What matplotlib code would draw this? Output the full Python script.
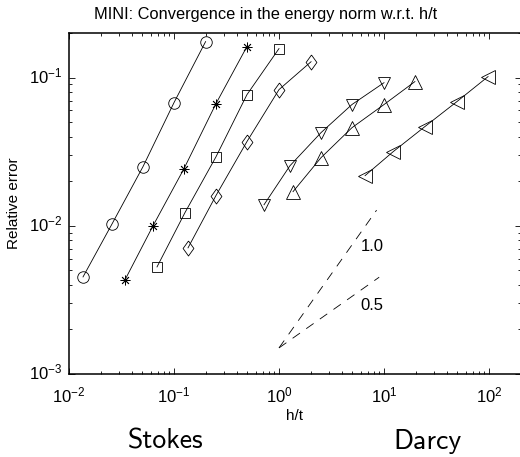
import os
import matplotlib
matplotlib.use("Agg")
import matplotlib.pyplot as plt
import matplotlib.transforms as mtransforms
from matplotlib.font_manager import FontProperties
import numpy as np

plt.rcParams['font.family'] = ['Liberation Sans', 'DejaVu Sans']
plt.rcParams['mathtext.fontset'] = 'custom'
plt.rcParams['mathtext.rm'] = 'Liberation Sans'
plt.rcParams['mathtext.it'] = 'Liberation Sans:italic'
plt.rcParams['mathtext.bf'] = 'Liberation Sans:bold'
plt.rcParams['lines.scale_dashes'] = False

# h/t values and relative errors
x_circ = [0.0136, 0.0257, 0.0507, 0.1, 0.2]
y_circ = [0.00452, 0.0103, 0.0251, 0.0678, 0.175]
x_star = [0.0341, 0.0631, 0.1245, 0.251, 0.495]
y_star = [0.00431, 0.0100, 0.0243, 0.0667, 0.162]
x_sq = [0.0689, 0.127, 0.251, 0.495, 1.0]
y_sq = [0.00528, 0.01225, 0.0292, 0.0767, 0.157]
x_dia = [0.136, 0.251, 0.495, 1.0, 2.02]
y_dia = [0.0071, 0.0160, 0.0370, 0.0830, 0.128]
x_tdown = [0.72, 1.27, 2.51, 4.95, 10.0]
y_tdown = [0.01387, 0.0254, 0.0425, 0.0658, 0.0924]
x_tup = [1.36, 2.51, 4.95, 10.0, 19.7]
y_tup = [0.0170, 0.0288, 0.0459, 0.0658, 0.094]
x_tleft = [6.6, 12.2, 24.5, 49.5, 98.0]
y_tleft = [0.0218, 0.0316, 0.0467, 0.0689, 0.1016]

# reference slopes
slope_x0 = 1.0
slope_y0 = 0.0015
slope1_x1 = 8.5
slope05_x1 = 9.0

W, H = 520, 457
fig = plt.figure(figsize=(W/100, H/100), dpi=100)
ax = fig.add_axes([69/W, 1-374/H, (520.6-69)/W, (374-33)/H])

diamond = [(0, 1), (0.72, 0), (0, -1), (-0.72, 0), (0, 1)]
kw = dict(color='k', lw=0.6, mfc='none', mec='k', mew=0.6)
ax.plot(x_circ, y_circ, marker='o', ms=8.3, **kw)
ax.plot(x_star, y_star, marker=(8, 2, 0), ms=7.0, **kw)
ax.plot(x_sq, y_sq, marker='s', ms=6.9, **kw)
ax.plot(x_dia, y_dia, marker=diamond, ms=10.8, **kw)
ax.plot(x_tdown, y_tdown, marker='v', ms=9.2, **kw)
ax.plot(x_tup, y_tup, marker='^', ms=9.4, **kw)
ax.plot(x_tleft, y_tleft, marker='<', ms=9.4, **kw)

xs1 = np.array([slope_x0, slope1_x1])
xs2 = np.array([slope_x0, slope05_x1])
ax.plot(xs1, slope_y0*(xs1/slope_x0)**1.0, color='k', lw=0.6, ls=(0, (6.5, 5.5)))
ax.plot(xs2, slope_y0*(xs2/slope_x0)**0.5, color='k', lw=0.6, ls=(0, (6.5, 5.5)))
ax.text(6.0, 0.0072, '1.0', fontsize=12, va='center', ha='left')
ax.text(6.0, 0.0029, '0.5', fontsize=12, va='center', ha='left')

ax.set_xscale('log')
ax.set_yscale('log')
ax.set_xlim(1e-2, 2e2)
ax.set_ylim(1e-3, 0.2)
ax.tick_params(which='both', direction='in', top=True, right=True, labelsize=12)
ax.tick_params(which='major', length=4.5, width=0.6)
ax.tick_params(axis='x', pad=8)
ax.tick_params(axis='y', pad=4.5)
ax.tick_params(which='minor', length=2.5, width=0.6)
for s in ax.spines.values():
    s.set_linewidth(1.1)
ax.set_xlabel('h/t', fontsize=11, labelpad=3)
ax.set_ylabel('Relative error', fontsize=11, labelpad=6)

# lift the y tick labels so the base "10" sits on the tick
up = mtransforms.ScaledTranslation(0, 3/100, fig.dpi_scale_trans)
for lab in ax.get_yticklabels():
    lab.set_transform(lab.get_transform() + up)

fig.text(266/W, 1-14/H, 'MINI: Convergence in the energy norm w.r.t. h/t',
         fontsize=11.8, ha='center', va='center')

cmss = FontProperties(fname=os.path.join(matplotlib.get_data_path(), 'fonts', 'ttf', 'cmss10.ttf'), size=20)
fig.text(166/W, 1-441/H, 'Stokes', fontproperties=cmss, ha='center', va='center')
fig.text(427/W, 1-441/H, 'Darcy', fontproperties=cmss, ha='center', va='center')

fig.savefig('out.png', dpi=100)
